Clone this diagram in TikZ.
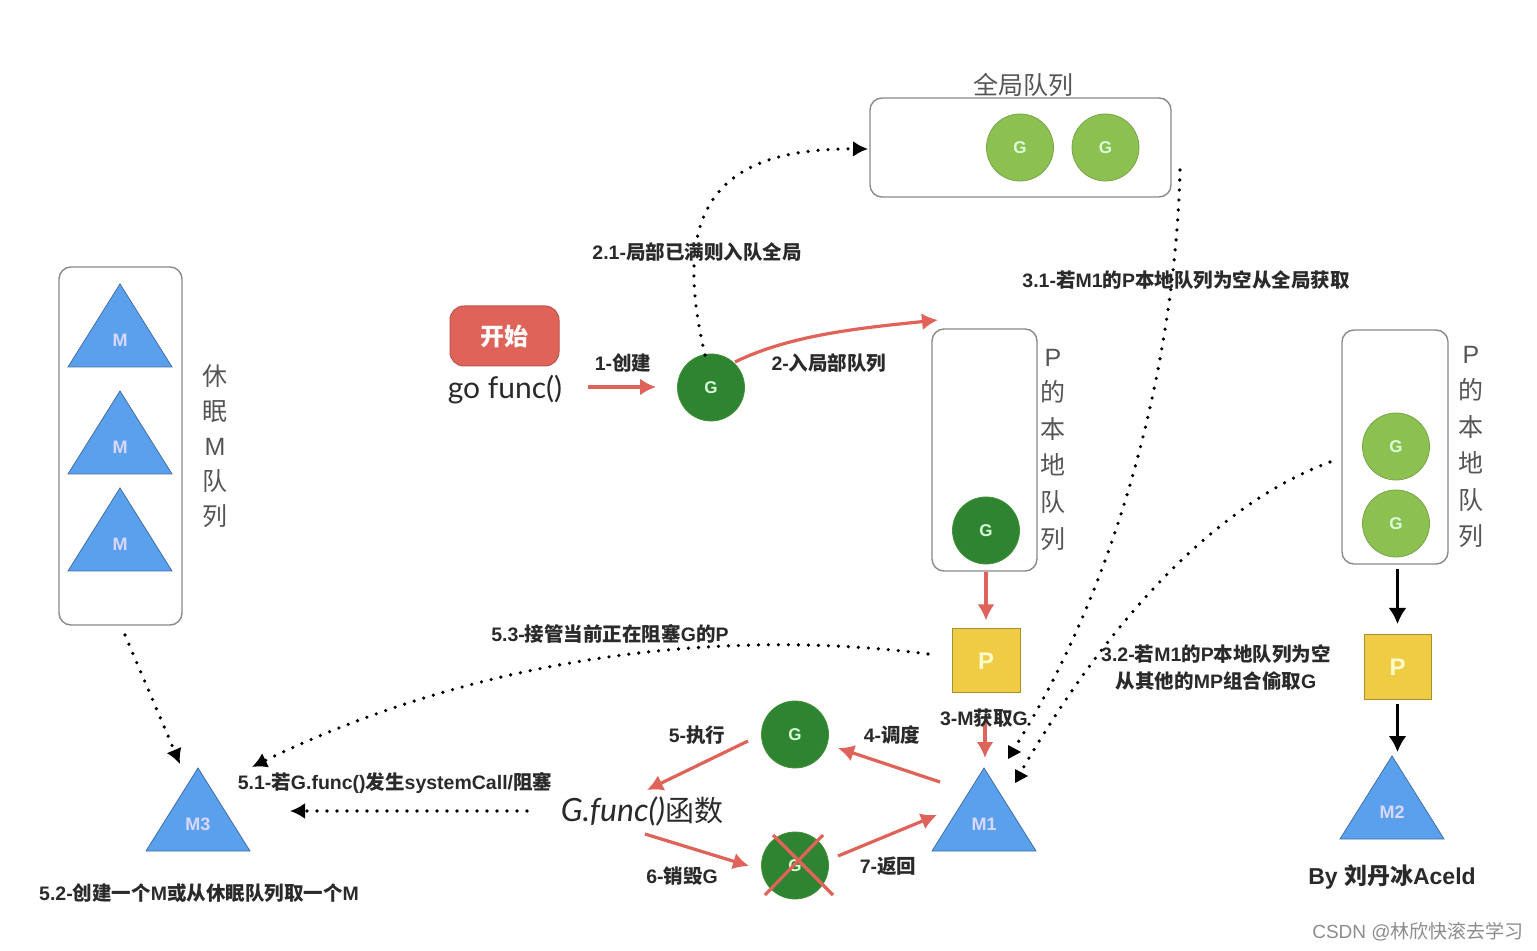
\documentclass[tikz,border=0pt]{standalone}
\usepackage{fontspec}
\setmainfont{Noto Sans CJK SC}
\newfontfamily\hand{Lato}
\newfontfamily\lat{Liberation Sans}
\newcommand{\LL}[1]{{\lat #1}}
\usetikzlibrary{arrows.meta,calc}
\definecolor{pinkr}{HTML}{E0635A}
\definecolor{gdark}{HTML}{2F8431}
\definecolor{glight}{HTML}{8CC152}
\definecolor{mblue}{HTML}{5BA0EC}
\definecolor{pyel}{HTML}{F0CC45}
\definecolor{boxl}{HTML}{8A8A8A}
\definecolor{txt}{HTML}{2A2A2A}
\definecolor{grayt}{HTML}{555555}
\tikzset{
  gnode/.style={circle,inner sep=0pt,minimum size=33.5pt,text=white!85!green,font=\lat\bfseries\fontsize{8.5}{8.5}\selectfont},
  gd/.style={gnode,fill=gdark,draw=gdark!80!glight,line width=.4pt},
  gl/.style={gnode,fill=glight,draw=glight!85!black,line width=.4pt},
  qbox/.style={draw=boxl,line width=.7pt,rounded corners=6pt,inner sep=0pt,fill=white},
  pbox/.style={draw=pyel!70!black,line width=.5pt,fill=pyel,inner sep=0pt,text=white!80!yellow,font=\lat\bfseries\fontsize{12}{12}\selectfont},
  lab/.style={text=txt,font=\bfseries\fontsize{9.75}{12}\selectfont,inner sep=0pt,align=center},
  vlab/.style={text=grayt,font=\fontsize{12.5}{14}\selectfont,inner sep=0pt},
  pk/.style={draw=pinkr,line width=1.6pt,-{Latex[length=8pt,width=8.5pt]}},
  bk/.style={draw=black,line width=1.5pt,-{Latex[length=8pt,width=9pt]}},
  dot/.style={draw=black,line width=1.8pt,line cap=round,dash pattern=on 0pt off 5pt,-{Latex[length=7.5pt,width=8pt]}},
  dotn/.style={draw=black,line width=1.8pt,line cap=round,dash pattern=on 0pt off 5pt},
}
\newcommand{\tri}[4]{%
  \fill[mblue,draw=mblue!70!black,line width=.4pt] (#2,#3) -- (#2+52,#3+83) -- (#2-52,#3+83) -- cycle;
  \coordinate (#1top) at (#2,#3);
  \node[text=white!85!blue,font=\lat\bfseries\fontsize{9}{9}\selectfont,inner sep=0pt] (#1) at (#2,#3+56) {#4};}
\begin{document}
\begin{tikzpicture}[x=0.5pt,y=-0.5pt]
\useasboundingbox[fill=white] (0,0) rectangle (1537,951);
% queues
\node[qbox,minimum width=150.5pt,minimum height=49.5pt] (glob) at (1020.5,147.5) {};
\node[qbox,minimum width=61.5pt,minimum height=179pt] (sleep) at (120.5,446) {};
\node[qbox,minimum width=52.5pt,minimum height=121pt] (lq) at (984.5,450) {};
\node[qbox,minimum width=53pt,minimum height=117pt] (rq) at (1395,447) {};
% G
\node[gl] (g1) at (1020,147.5) {G};
\node[gl] (g2) at (1105.5,147.5) {G};
\node[gd] (gnew) at (711,387.5) {G};
\node[gd] (glocal) at (986,530.5) {G};
\node[gd] (grun) at (795,734.5) {G};
\node[gd] (gdead) at (795,865.5) {G};
\node[gl] (gr1) at (1396,446.5) {G};
\node[gl] (gr2) at (1396,523.5) {G};
% P
\node[pbox,minimum width=34pt,minimum height=32pt] (p1) at (986,661) {P};
\node[pbox,minimum width=33.5pt,minimum height=32.5pt] (p2) at (1397.5,667) {P};
% M
\tri{ma}{120}{284}{M}
\tri{mb}{120}{391}{M}
\tri{mc}{120}{488}{M}
\tri{mt}{198}{768}{M3}
\tri{mo}{984}{768}{M1}
\tri{ms}{1392}{756}{M2}
% start
\node[fill=pinkr,draw=pinkr!85!black,line width=.5pt,rounded corners=7pt,minimum width=54.5pt,minimum height=30pt,inner sep=0pt,text=white,font=\bfseries\fontsize{12}{12}\selectfont] (start) at (504.5,336) {开始};
\node[inner sep=0pt,text=txt,font=\hand\fontsize{15}{15}\selectfont] (go) at (505,390) {go func()};
\node[inner sep=0pt,text=txt,font=\fontsize{14.5}{14.5}\selectfont] (gf) at (642,811) {{\hand\itshape\fontsize{16}{16}\selectfont G.func()}函数};
% free ends
\coordinate (c31) at (1180,170);
\coordinate (c31e) at (1012,752);
\coordinate (c32) at (1330,462);
\coordinate (c32e) at (1018,777);
\coordinate (c53) at (928,654);
\coordinate (c53e) at (252,767);
\coordinate (cs) at (125,635);
\coordinate (cse) at (180,764);
\coordinate (c51) at (527,811);
\coordinate (c51e) at (290,811);
\coordinate (c21) at (705,355);
\coordinate (c21e) at (868,149);
\coordinate (c1) at (588,387);
\coordinate (c1e) at (656,387);
\coordinate (c2) at (735,362);
\coordinate (c2e) at (938,320);
\coordinate (c3) at (985,722);
\coordinate (c3e) at (985,758);
\coordinate (c4) at (940,782);
\coordinate (c4e) at (838,748);
\coordinate (c5) at (748,741);
\coordinate (c5e) at (647,790);
\coordinate (c6) at (645,834);
\coordinate (c6e) at (749,866);
\coordinate (c7) at (838,856);
\coordinate (c7e) at (937,815);
\coordinate (x1) at (773,835);
\coordinate (x1e) at (833,895);
\coordinate (x2) at (823,835);
\coordinate (x2e) at (765,895);
% dotted
\draw[dot] (c21) .. controls (672,215) and (710,148) .. (c21e);
\draw[dotn] (c31) .. controls (1175,370) and (1115,590) .. (c31e);
\draw[dotn] (c32) .. controls (1200,510) and (1090,650) .. (c32e);
\fill[black] (1008,745) -- (1021,752) -- (1008,759) -- cycle;
\fill[black] (1015,769) -- (1028,776) -- (1015,783) -- cycle;
\draw[dot] (c53) .. controls (700,625) and (460,665) .. (c53e);
\draw[dot] (cs) -- (cse);
\draw[dot] (c51) -- (c51e);
% solid
\draw[pk] (c1) -- (c1e);
\draw[pk] (c2) .. controls (790,335) and (860,328) .. (c2e);
\draw[pk,shorten >=4pt] (lq.south -| p1) -- (p1.north);
\draw[pk] (c3) -- (c3e);
\draw[pk] (c4) -- (c4e);
\draw[pk] (c5) -- (c5e);
\draw[pk] (c6) -- (c6e);
\draw[pk] (c7) -- (c7e);
\draw[pinkr,line width=1.6pt] (x1) -- (x1e);
\draw[pinkr,line width=1.6pt] (x2) -- (x2e);
\draw[bk,shorten >=5pt,shorten <=2pt] (rq.south -| p2) -- (p2.north);
\draw[bk,shorten >=2pt,shorten <=2pt] (p2.south) -- (p2 |- mstop);
% labels
\node[vlab] (tg) at (1023,85) {全局队列};
\foreach \t/\y/\n in {休/376/a,眠/412/b,\LL{M}/447/c,队/481/d,列/516/e}
  \node[vlab] (sl\n) at (215,\y) {\t};
\foreach \t/\y/\n in {\LL{P}/358/a,的/392/b,本/429/c,地/465/d,队/502/e,列/539/f}
  \node[vlab] (pl\n) at (1053,\y) {\t};
\foreach \t/\y/\n in {\LL{P}/355/a,的/390/b,本/427/c,地/463/d,队/500/e,列/536/f}
  \node[vlab] (pr\n) at (1471,\y) {\t};
\node[lab,fill=white,inner ysep=1pt] (l21) at (697,252) {\LL{2.1-}局部已满则入队全局};
\node[lab] (l31) at (1186,280) {\LL{3.1-}若\LL{M1}的\LL{P}本地队列为空从全局获取};
\node[lab] (l1) at (623,363) {\LL{1-}创建};
\node[lab] (l2) at (829,363) {\LL{2-}入局部队列};
\node[lab] (l53) at (610,634) {\LL{5.3-}接管当前正在阻塞\LL{G}的\LL{P}};
\node[lab] (l32) at (1216,668) {\LL{3.2-}若\LL{M1}的\LL{P}本地队列为空\\[1.5pt]从其他的\LL{MP}组合偷取\LL{G}};
\node[lab] (l3) at (984,718) {\LL{3-M}获取\LL{G}};
\node[lab] (l5) at (697,735) {\LL{5-}执行};
\node[lab] (l4) at (892,735) {\LL{4-}调度};
\node[lab] (l51) at (395,783) {\LL{5.1-}若\LL{G.func()}发生\LL{systemCall/}阻塞};
\node[lab] (l6) at (682,876) {\LL{6-}销毁\LL{G}};
\node[lab] (l7) at (888,866) {\LL{7-}返回};
\node[lab] (l52) at (199,893) {\LL{5.2-}创建一个\LL{M}或从休眠队列取一个\LL{M}};
\node[lab,font=\bfseries\fontsize{11.5}{12}\selectfont] (by) at (1392,877) {\LL{By }刘丹冰\LL{Aceld}};
\node[inner sep=0pt,text=black!45,font=\fontsize{9.5}{10}\selectfont] (wm) at (1418,932) {\LL{CSDN @}林欣快滚去学习};
\end{tikzpicture}
\end{document}
